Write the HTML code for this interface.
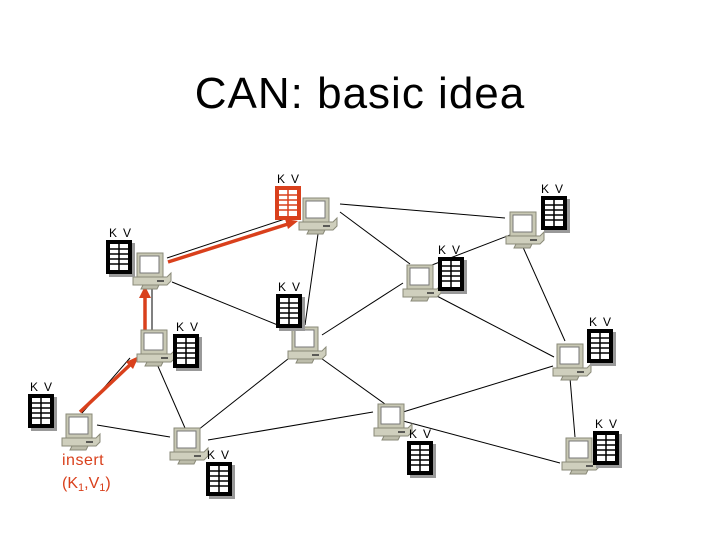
<!DOCTYPE html>
<html><head><meta charset="utf-8"><style>
html,body{margin:0;padding:0;background:#fff;}
svg{display:block}
</style></head><body>
<svg width="720" height="540" viewBox="0 0 720 540" xmlns="http://www.w3.org/2000/svg">
<defs>
<g id="pc">
  <rect x="0" y="0" width="26" height="24" fill="#c8c8b4" stroke="#8a8a78"/>
  <rect x="3" y="3" width="19" height="17" fill="#fff" stroke="#777"/>
  <polygon points="-4,24 30,24 34,20 34,28 30,32 -4,32" fill="#cfcfbd" stroke="#8a8a78"/>
  <line x1="20" y1="28" x2="27" y2="28" stroke="#333" stroke-width="1.5"/>
  <polygon points="6,32 22,32 20,36 4,36" fill="#bdbdab" stroke="#8a8a78"/>
</g>
<g id="tbl">
  <rect x="3" y="3" width="26" height="34" fill="#999"/>
  <rect x="0" y="0" width="26" height="34" fill="#000"/>
  <rect x="4" y="4" width="18" height="26" fill="#fff"/>
  <g stroke="#000" stroke-width="1.5">
    <line x1="13" y1="4" x2="13" y2="30"/>
    <line x1="4" y1="9" x2="22" y2="9"/>
    <line x1="4" y1="14" x2="22" y2="14"/>
    <line x1="4" y1="19" x2="22" y2="19"/>
    <line x1="4" y1="24" x2="22" y2="24"/>
  </g>
</g>
<g id="tblr">
  <rect x="0" y="0" width="26" height="34" fill="#d9401c"/>
  <rect x="4" y="4" width="18" height="26" fill="#fff"/>
  <g stroke="#d9401c" stroke-width="1.5">
    <line x1="13" y1="4" x2="13" y2="30"/>
    <line x1="4" y1="9" x2="22" y2="9"/>
    <line x1="4" y1="14" x2="22" y2="14"/>
    <line x1="4" y1="19" x2="22" y2="19"/>
    <line x1="4" y1="24" x2="22" y2="24"/>
  </g>
</g>
</defs>

<text x="360" y="108" text-anchor="middle" font-family="Liberation Sans, sans-serif" font-size="44" letter-spacing="1">CAN: basic idea</text>

<g stroke="#000" stroke-width="1" fill="none">
  <line x1="167" y1="258" x2="297" y2="215"/>
  <line x1="340" y1="204" x2="505" y2="218"/>
  <line x1="318" y1="234" x2="305" y2="325"/>
  <line x1="340" y1="212" x2="410" y2="264"/>
  <line x1="172" y1="282" x2="290" y2="330"/>
  <line x1="152" y1="287" x2="152" y2="330"/>
  <line x1="130" y1="358" x2="82" y2="413"/>
  <line x1="157" y1="364" x2="185" y2="428"/>
  <line x1="322" y1="335" x2="403" y2="283"/>
  <line x1="293" y1="355" x2="198" y2="430"/>
  <line x1="318" y1="356" x2="385" y2="404"/>
  <line x1="432" y1="265" x2="510" y2="235"/>
  <line x1="433" y1="294" x2="554" y2="357"/>
  <line x1="522" y1="245" x2="565" y2="341"/>
  <line x1="553" y1="366" x2="403" y2="412"/>
  <line x1="570" y1="378" x2="575" y2="437"/>
  <line x1="403" y1="421" x2="560" y2="463"/>
  <line x1="97" y1="425" x2="170" y2="437"/>
  <line x1="208" y1="440" x2="373" y2="412"/>
</g>

<g stroke="#d9401c" stroke-width="3.5" fill="#d9401c">
  <line x1="80" y1="412" x2="132" y2="363"/>
  <polygon points="139,356 126,362 133,369" stroke="none"/>
  <line x1="145" y1="330" x2="145" y2="296"/>
  <polygon points="145,286 139,298 151,298" stroke="none"/>
  <line x1="168" y1="262" x2="288" y2="224"/>
  <polygon points="298,221 285,219 288,229" stroke="none"/>
</g>

<use href="#pc" x="303" y="198"/>
<use href="#pc" x="510" y="212"/>
<use href="#pc" x="137" y="253"/>
<use href="#pc" x="407" y="265"/>
<use href="#pc" x="292" y="327"/>
<use href="#pc" x="141" y="330"/>
<use href="#pc" x="557" y="344"/>
<use href="#pc" x="66" y="414"/>
<use href="#pc" x="174" y="428"/>
<use href="#pc" x="378" y="404"/>
<use href="#pc" x="566" y="438"/>

<use href="#tblr" x="275" y="186"/>
<use href="#tbl" x="541" y="196"/>
<use href="#tbl" x="106" y="240"/>
<use href="#tbl" x="438" y="257"/>
<use href="#tbl" x="276" y="294"/>
<use href="#tbl" x="173" y="334"/>
<use href="#tbl" x="587" y="329"/>
<use href="#tbl" x="28" y="394"/>
<use href="#tbl" x="206" y="462"/>
<use href="#tbl" x="407" y="441"/>
<use href="#tbl" x="593" y="431"/>

<g font-family="Liberation Sans, sans-serif" font-size="12" fill="#000">
  <text x="277" y="183">K</text><text x="291" y="183">V</text>
  <text x="541" y="193">K</text><text x="555" y="193">V</text>
  <text x="109" y="237">K</text><text x="123" y="237">V</text>
  <text x="438" y="254">K</text><text x="452" y="254">V</text>
  <text x="278" y="291">K</text><text x="292" y="291">V</text>
  <text x="176" y="331">K</text><text x="190" y="331">V</text>
  <text x="589" y="326">K</text><text x="603" y="326">V</text>
  <text x="30" y="391">K</text><text x="44" y="391">V</text>
  <text x="207" y="459">K</text><text x="221" y="459">V</text>
  <text x="409" y="438">K</text><text x="423" y="438">V</text>
  <text x="595" y="428">K</text><text x="609" y="428">V</text>
</g>
<g font-family="Liberation Sans, sans-serif" font-size="16" fill="#d9401c">
  <text x="62" y="465" letter-spacing="0.5">insert</text>
  <text x="62" y="488">(K<tspan font-size="11" dy="3">1</tspan><tspan dy="-3">,V</tspan><tspan font-size="11" dy="3">1</tspan><tspan dy="-3">)</tspan></text>
</g>
</svg>
</body></html>
